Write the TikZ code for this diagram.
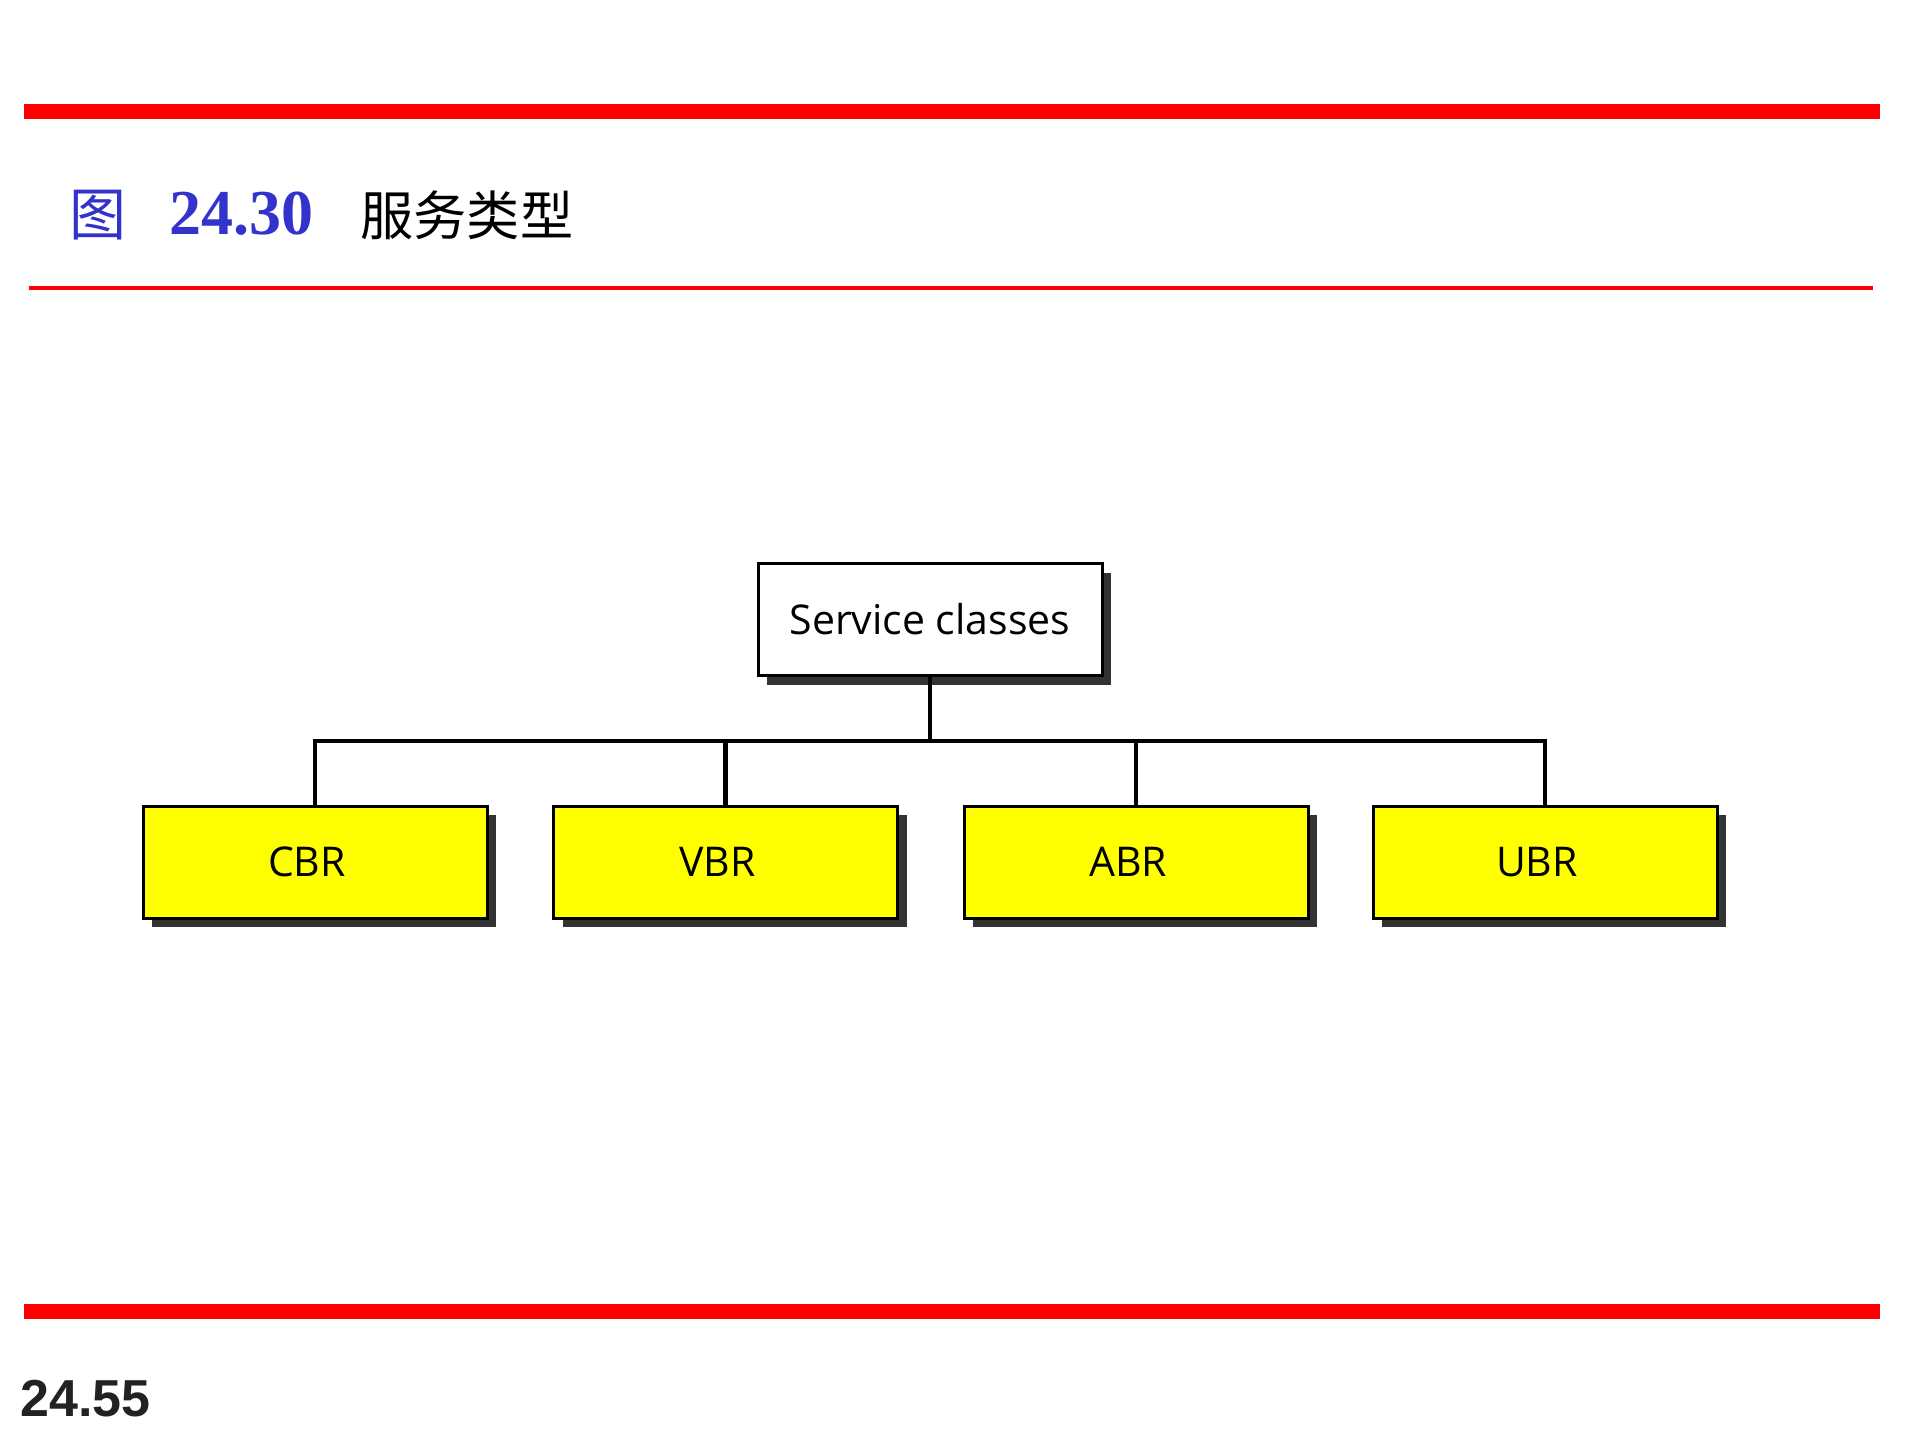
\documentclass[tikz,border=0pt]{standalone}
\usepackage{fontspec}
\newfontfamily\cjk{Noto Sans CJK SC}
\newfontfamily\tnr{Liberation Serif}
\newfontfamily\ars{Liberation Sans}
\newfontfamily\diag{Open Sans}
\usetikzlibrary{shadows}
\definecolor{barred}{HTML}{FF0000}
\definecolor{titleblue}{HTML}{3333CC}
\definecolor{boxyellow}{HTML}{FFFF00}
\definecolor{shadowgray}{HTML}{333333}
\definecolor{pagenum}{HTML}{222222}
\newcommand{\boxlabelshift}{\hspace*{-8pt}}
\begin{document}
\begin{tikzpicture}[x=0.5pt,y=-0.5pt,
  shadowed/.style={drop shadow={shadow xshift=4.5pt,shadow yshift=-4.5pt,fill=shadowgray,opacity=1}},
  classbox/.style={draw=black,line width=1.5pt,minimum width=172pt,minimum height=56pt,inner sep=0pt,font=\diag\fontsize{20.5}{25}\selectfont,shadowed},
  link/.style={line width=2.2pt,black}]
\useasboundingbox (0,0) rectangle (1920,1440);
% rules
\fill[barred] (24,104) rectangle (1880,119);
\fill[barred] (29,286) rectangle (1873,290);
\fill[barred] (24,1304) rectangle (1880,1319);
% title
\node[anchor=base west,inner sep=0pt,text=titleblue,font=\cjk\fontsize{28.5}{32}\selectfont] (figch) at (69,235) {图};
\node[anchor=base west,inner sep=0pt,text=titleblue,font=\tnr\bfseries\fontsize{32}{36}\selectfont] (fignum) at (169,234) {24.30};
\node[anchor=base west,inner sep=0pt,text=black,font=\cjk\fontsize{26.6}{30}\selectfont] (figtitle) at (360,235) {服务类型};
% page number
\node[anchor=base west,inner sep=0pt,text=pagenum,font=\ars\bfseries\fontsize{26}{30}\selectfont] (page) at (20,1416) {24.55};
% diagram
\node[classbox,fill=white] (sc) at (930,619.5) {Service classes};
\node[classbox,fill=boxyellow] (cbr) at (315,862) {\boxlabelshift CBR};
\node[classbox,fill=boxyellow] (vbr) at (725.5,862) {\boxlabelshift VBR};
\node[classbox,fill=boxyellow] (abr) at (1136,862) {\boxlabelshift ABR};
\node[classbox,fill=boxyellow] (ubr) at (1545,862) {\boxlabelshift UBR};
\coordinate (bus) at (930,741);
\draw[link] (sc.south) -- (sc.south |- bus);
\draw[link] (cbr.north) |- (ubr.north |- bus) -- (ubr.north);
\draw[link] (vbr.north) -- (vbr.north |- bus);
\draw[link] (abr.north) -- (abr.north |- bus);
\end{tikzpicture}
\end{document}
